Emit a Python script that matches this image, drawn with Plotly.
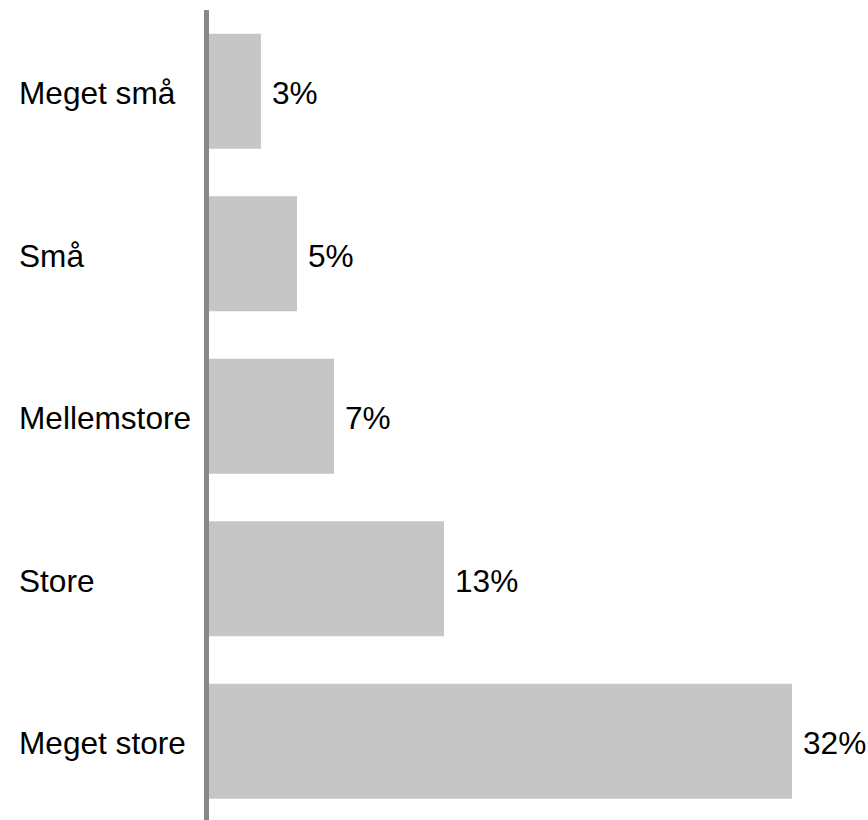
import plotly.graph_objects as go

# Data (top to bottom in the chart)
categories = ["Meget små", "Små", "Mellemstore", "Store", "Meget store"]
shares = [2.85, 4.83, 6.86, 12.9, 32.0]
share_labels = ["3%", "5%", "7%", "13%", "32%"]

FONT = "Liberation Sans, Arial, sans-serif"
FONT_SIZE = 31.6
WIDTH, HEIGHT = 868, 820
PLOT_LEFT = 209     # where the bars start
PLOT_W = WIDTH - PLOT_LEFT
PX_PER_PCT = 18.22

fig = go.Figure()

fig.add_trace(go.Bar(
    x=shares,
    y=categories,
    orientation="h",
    marker=dict(color="#c6c6c6", line=dict(width=0)),
    width=0.708,
    hoverinfo="skip",
))

# value labels to the right of each bar
for cat, val, lab in zip(categories, shares, share_labels):
    fig.add_annotation(
        x=val, y=cat, xref="x", yref="y",
        text=lab, showarrow=False,
        xanchor="left", yanchor="middle", xshift=9, yshift=-2,
        font=dict(family=FONT, size=FONT_SIZE, color="#000000"),
    )

# category labels, left aligned
for cat in categories:
    fig.add_annotation(
        x=(17.3 - PLOT_LEFT) / PLOT_W, y=cat, xref="paper", yref="y",
        text=cat, showarrow=False,
        xanchor="left", yanchor="middle", yshift=-2,
        font=dict(family=FONT, size=FONT_SIZE, color="#000000"),
    )

fig.update_layout(
    width=WIDTH,
    height=HEIGHT,
    margin=dict(l=PLOT_LEFT, r=0, t=10, b=0),
    plot_bgcolor="white",
    paper_bgcolor="white",
    showlegend=False,
    xaxis=dict(
        range=[0, PLOT_W / PX_PER_PCT],
        visible=False,
        showgrid=False,
        zeroline=False,
    ),
    yaxis=dict(
        categoryorder="array",
        categoryarray=categories,
        range=[4.485, -0.5],
        showticklabels=False,
        ticks="",
        showgrid=False,
        zeroline=False,
        showline=True,
        linecolor="#888888",
        linewidth=5,
    ),
)

fig.write_html(
    "out.html",
    config={"displayModeBar": False},
    post_script="document.body.style.margin='0px';document.body.style.overflow='hidden';",
)
